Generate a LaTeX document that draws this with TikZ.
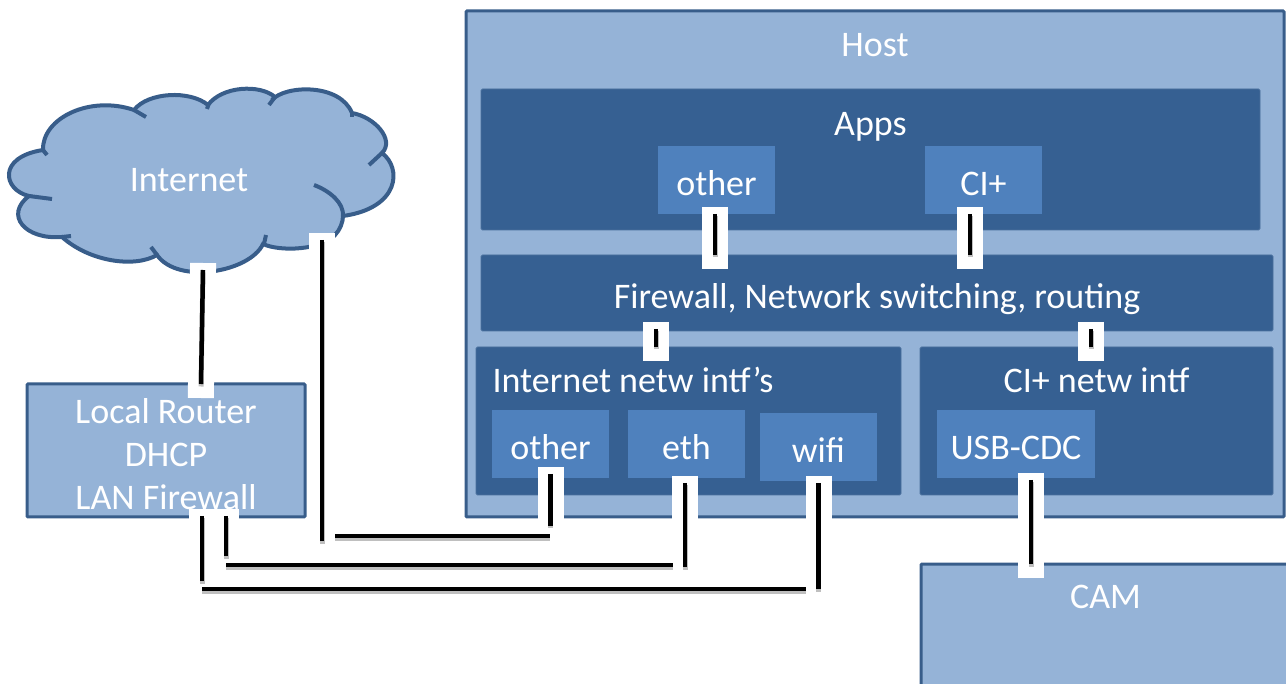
\documentclass[tikz,border=0pt]{standalone}
\usepackage{fontspec}
\setmainfont{Carlito}
\usetikzlibrary{positioning}
\definecolor{hostblue}{HTML}{95B3D7}
\definecolor{bandblue}{HTML}{366092}
\definecolor{subblue}{HTML}{4F81BD}
\definecolor{edgeblue}{HTML}{385D8A}
\newcommand{\wire}[2]{
  \draw [halo] #1 -- #2;
  \draw [wireshade] #1 -- #2;
  \draw [wireline] #1 -- #2;
}
\newcommand{\run}[2]{
  \draw [wireshade] #1 -- #2;
  \draw [wireline] #1 -- #2;
}

\begin{document}
\begin{tikzpicture}[x=1pt,y=-1pt,
lbl/.style={text=white,inner sep=0pt,outer sep=0pt,align=center,
  text height=36pt,text depth=4pt,
  node font=\fontsize{36}{43}\selectfont
},
outerbox/.style={lbl,fill=hostblue,draw=edgeblue,line width=3pt,
  rounded corners=1pt,anchor=north west
},
band/.style={lbl,fill=bandblue,draw=bandblue!90!white,line width=.8pt,
  rounded corners=1.5pt,anchor=north west
},
subbox/.style={lbl,fill=subblue,minimum width=117pt,minimum height=68pt,
  anchor=north west
},
halo/.style={white,line width=26pt,shorten <=-7pt,shorten >=-14pt},
wireline/.style={black,line width=4.5pt},
wireshade/.style={black!25,line width=5pt,transform canvas={yshift=-2.5pt}},
cloudline/.style={draw=edgeblue,line width=4pt}
]
\useasboundingbox (0,0) rectangle (1286,684);
\clip (0,0) rectangle (1286,684);

% cloud
\path [fill=hostblue,cloudline] (43,150)
  .. controls (42,118) and (90,95) .. (134,110)
  .. controls (148,92) and (190,90) .. (208,105)
  .. controls (222,86) and (260,84) .. (275,97)
  -- (272,100)
  .. controls (285,85) and (340,83) .. (352,113)
  .. controls (375,117) and (395,140) .. (382,153)
  .. controls (402,168) and (400,208) .. (343,216)
  .. controls (343,222) and (340,230) .. (335,235)
  .. controls (322,250) and (280,252) .. (263,244)
  .. controls (250,272) and (178,285) .. (157,255)
  .. controls (135,268) and (90,262) .. (62,237)
  .. controls (25,240) and (4,215) .. (29,196)
  .. controls (3,190) and (-3,157) .. (43,150) -- cycle;
\draw [cloudline] (134,110) -- (146,117);
\draw [cloudline] (207,109) -- (209,103);
\draw [cloudline] (275,97) -- (269,105);
\draw [cloudline] (352,113) -- (352,117);
\draw [cloudline] (382,153) -- (369,165);
\draw [cloudline] (314,185) .. controls (330,191) and (344,203) .. (343,216);
\draw [cloudline] (266,235) -- (264,244);
\draw [cloudline] (157,255) -- (151,247);
\draw [cloudline] (71,236) -- (62,237);
\draw [cloudline] (52,199) -- (29,196);
\draw [cloudline] (43,150) -- (47,155);
\node (internet) [lbl] at (189,176) {Internet};

% host side
\node (host) [outerbox,minimum width=818pt,minimum height=506pt] at (466,11) {};
\node (hostlbl) [lbl,below=10pt of host.north] {Host};
\node (apps) [band,minimum width=779pt,minimum height=141pt] at ([shift={(15,78)}]host.north west) {};
\node (appslbl) [lbl,below=11pt of apps.north] {Apps};
\node (appother) [subbox] at ([shift={(177,57)}]apps.north west) {other};
\node (appci) [subbox,right=150pt of appother] {CI+};
\node (fw) [band,minimum width=792pt,minimum height=76pt] at ([shift={(0,25)}]apps.south west) {Firewall, Network switching, routing};
\node (inetnetw) [band,minimum width=425pt,minimum height=148pt] at ([shift={(-5,16)}]fw.south west) {};
\node (inetlbl) [lbl,below=10pt of inetnetw.north,xshift=-55.5pt] {Internet netw intf’s};
\node (cinetw) [band,minimum width=353pt,minimum height=148pt,right=19pt of inetnetw] {};
\node (cilbl) [lbl,below=10pt of cinetw.north] {CI+ netw intf};
\node (intfother) [subbox] at ([shift={(16,63)}]inetnetw.north west) {other};
\node (intfeth) [subbox,right=19pt of intfother] {eth};
\node (intfwifi) [subbox,right=15pt of intfeth,yshift=-3pt] {wifi};
\node (usb) [subbox,minimum width=158pt] at ([shift={(17,63)}]cinetw.north west) {USB-CDC};

% router and cam
\node (router) [outerbox,minimum width=278pt,minimum height=133pt,text height=,text depth=] at (27,384) {\rule{0pt}{32pt}Local Router\\DHCP\\LAN Firewall};
\node (cam) [outerbox,minimum width=369pt,minimum height=126pt] at (921,564) {};
\node (camlbl) [lbl,below=8pt of cam.north] {CAM};

% free ends
\coordinate (cloudbase) at (203,270);
\coordinate (cloudtail) at (322,240);
\coordinate (tailend) at (322,541);
\coordinate (otherend) at (550.5,526);
\coordinate (ethend) at (685,567);
\coordinate (wifiend) at (818.5,589);
\coordinate (runAstart) at (335,536);
\coordinate (runAend) at (550,536);
\coordinate (runBstart) at (226,565);
\coordinate (runBend) at (673,565);
\coordinate (runCstart) at (202,589);
\coordinate (runCend) at (806,589);
\coordinate (lanBend) at (226,556);
\coordinate (lanCend) at (202,581);

\wire{([xshift=-1.5pt]appother.south)}{([xshift=-162pt]fw.north)}
\wire{([xshift=-13.5pt]appci.south)}{([xshift=93pt]fw.north)}
\wire{([xshift=-221pt,yshift=2pt]fw.south)}{([xshift=-32.5pt]inetnetw.north)}
\wire{([xshift=214pt,yshift=2pt]fw.south)}{([xshift=-5.5pt]cinetw.north)}
\wire{([xshift=15pt,yshift=-2pt]usb.south)}{([xshift=-74.5pt]cam.north)}
\wire{(cloudbase)}{([xshift=35pt]router.north)}
\wire{(cloudtail)}{(tailend)}
\wire{([yshift=4pt]intfother.south)}{(otherend)}
\wire{([xshift=-1.5pt,yshift=-5pt]intfeth.south)}{(ethend)}
\wire{([yshift=-2pt]intfwifi.south)}{(wifiend)}
\wire{([xshift=60pt,yshift=1pt]router.south)}{(lanBend)}
\wire{([xshift=36pt,yshift=1pt]router.south)}{(lanCend)}
\run{(runAstart)}{(runAend)}
\run{(runBstart)}{(runBend)}
\run{(runCstart)}{(runCend)}

\end{tikzpicture}
\end{document}
